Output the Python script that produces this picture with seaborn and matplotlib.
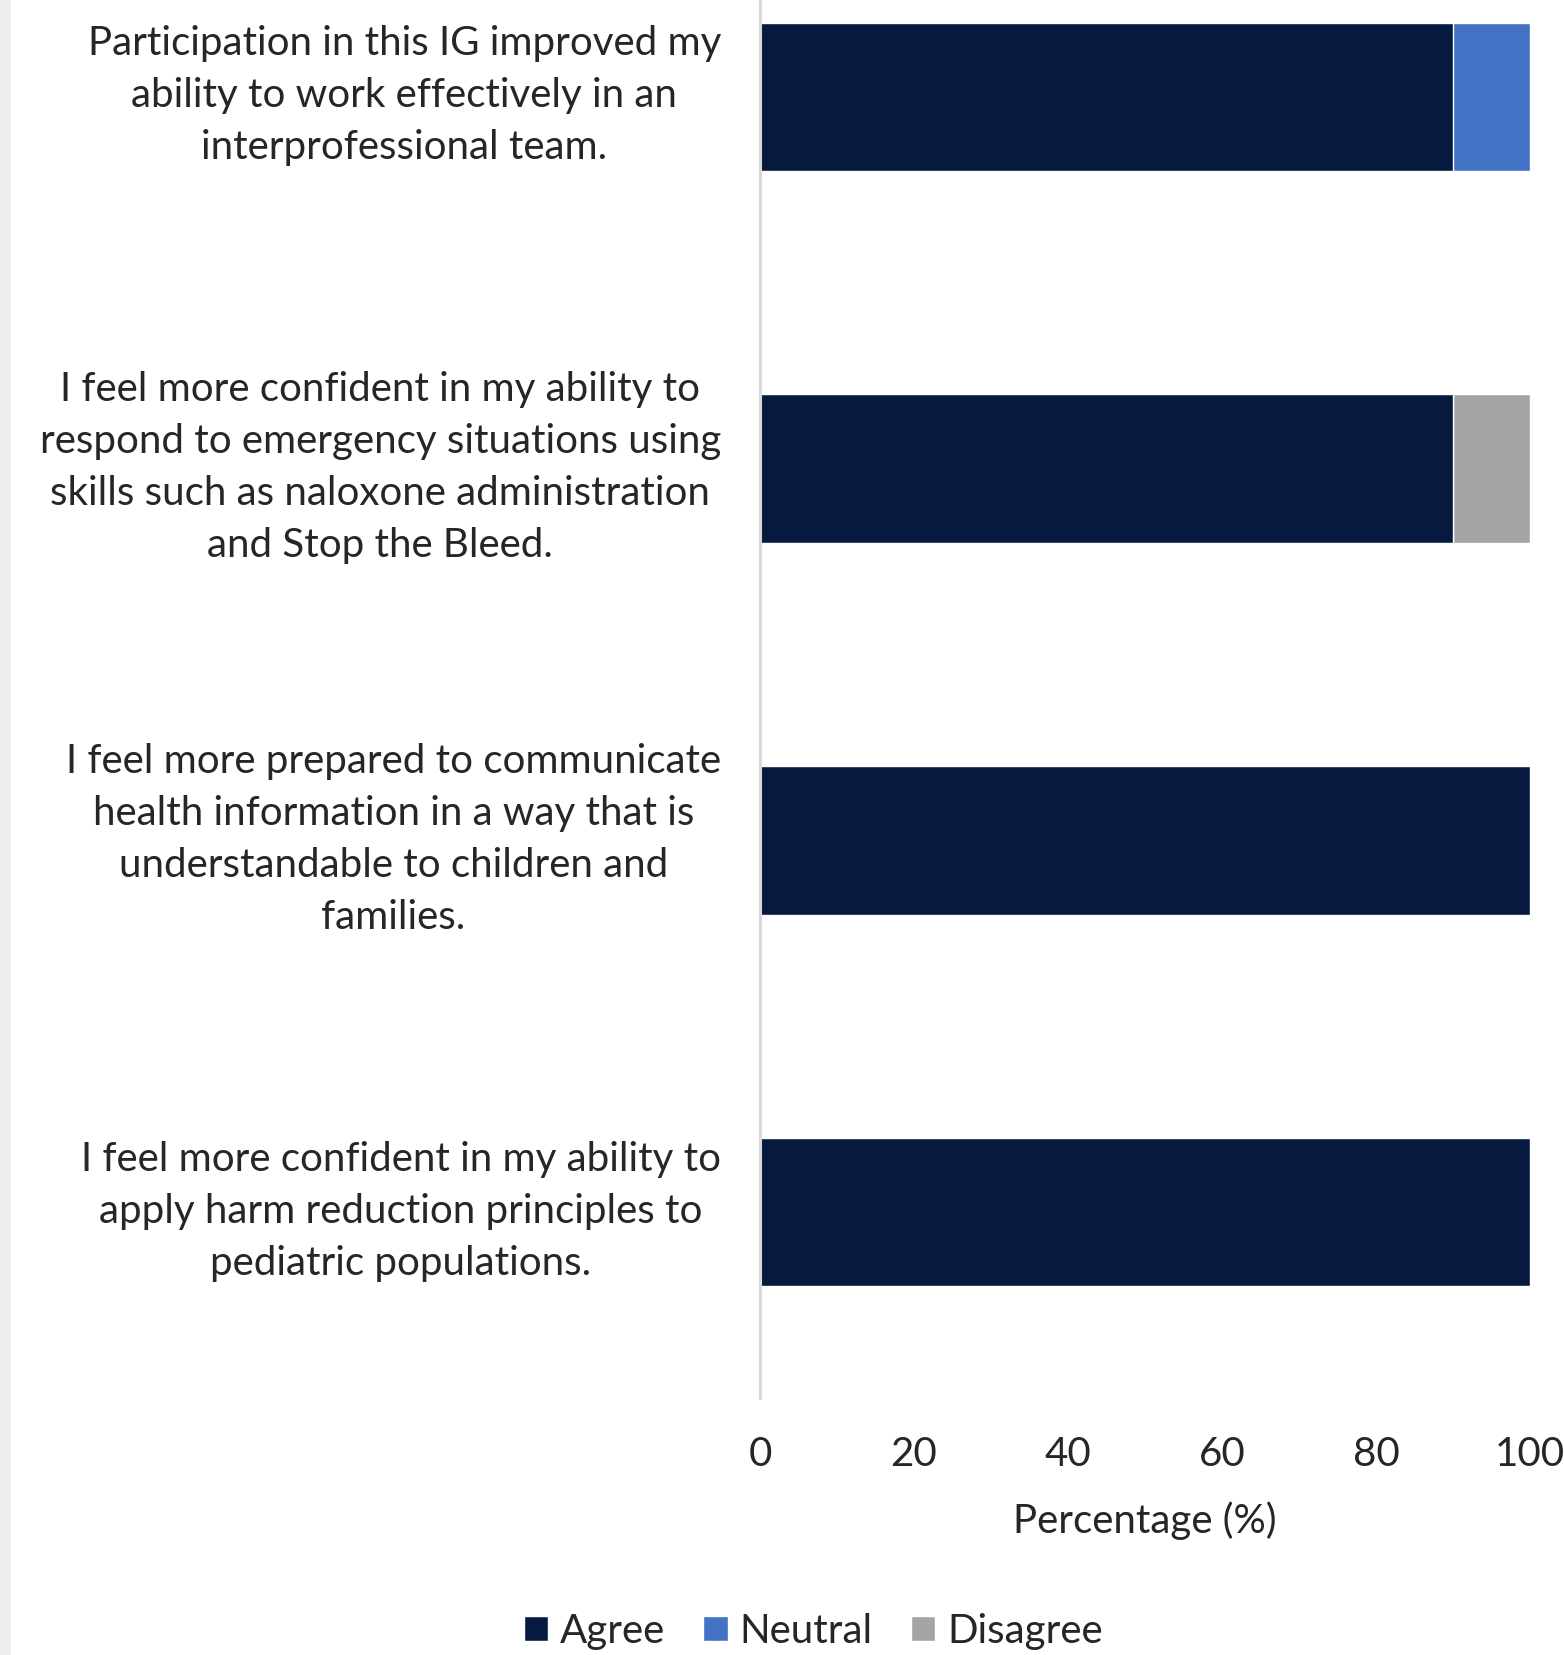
import numpy as np
import pandas as pd
import matplotlib
matplotlib.use("Agg")
import matplotlib.pyplot as plt
from matplotlib.patches import Rectangle, Patch
from matplotlib.transforms import ScaledTranslation
import seaborn as sns

statements = [
    "Participation in this IG improved my\nability to work effectively in an\ninterprofessional team.",
    "I feel more confident in my ability to\nrespond to emergency situations using\nskills such as naloxone administration\nand Stop the Bleed.",
    "I feel more prepared to communicate\nhealth information in a way that is\nunderstandable to children and\nfamilies.",
    "I feel more confident in my ability to\napply harm reduction principles to\npediatric populations.",
]
agree = [90, 90, 100, 100]
neutral = [10, 0, 0, 0]
disagree = [0, 10, 0, 0]
xticks = [0, 20, 40, 60, 80, 100]

colors = {"Agree": "#061A40", "Neutral": "#4472C4", "Disagree": "#A5A5A5"}

sns.set_theme(style="white")
plt.rcParams["font.family"] = ["Lato", "DejaVu Sans"]
FS = 29

df = pd.DataFrame({"statement": statements, "Agree": agree,
                   "Neutral": neutral, "Disagree": disagree})
df["c_neutral"] = df["Agree"] + df["Neutral"]
df["c_total"] = df["c_neutral"] + df["Disagree"]

fig = plt.figure(figsize=(15.64, 16.56), dpi=100)
ax = fig.add_axes([0.4859, 0.1552, 0.4924, 0.8979])

# stacked bars: draw cumulative totals back to front
sns.barplot(data=df, x="c_total", y="statement", color=colors["Disagree"],
            width=0.4, saturation=1, ax=ax)
sns.barplot(data=df, x="c_neutral", y="statement", color=colors["Neutral"],
            width=0.4, saturation=1, ax=ax)
sns.barplot(data=df, x="Agree", y="statement", color=colors["Agree"],
            width=0.4, saturation=1, ax=ax)

ax.set_xlim(0, 100)
ax.set_ylim(3.5, -0.5)
ax.set_xticks(xticks)
ax.set_xticklabels([str(t) for t in xticks], fontsize=FS)
ax.set_ylabel("")
ax.set_xlabel("Percentage (%)", fontsize=FS, labelpad=20)
ax.tick_params(axis="both", length=0)
ax.tick_params(axis="x", pad=27)
ax.tick_params(axis="y", pad=28)
shift = ScaledTranslation(0, 0.13, fig.dpi_scale_trans)
for lbl in ax.get_yticklabels():
    lbl.set_fontsize(FS)
    lbl.set_multialignment("center")
    lbl.set_linespacing(1.5)
    lbl.set_transform(lbl.get_transform() + shift)

for s in ["top", "right", "bottom"]:
    ax.spines[s].set_visible(False)
ax.spines["left"].set_color("#D9D9D9")
ax.spines["left"].set_linewidth(2.2)

handles = [Patch(facecolor=colors[k], label=k) for k in ["Agree", "Neutral", "Disagree"]]
fig.legend(handles=handles, loc="center", bbox_to_anchor=(0.52, 0.0145), ncol=3,
           frameon=False, fontsize=FS, handlelength=0.6, handleheight=0.6,
           handletextpad=0.3, columnspacing=0.95)

# grey strip at the left edge
fig.add_artist(Rectangle((0, 0), 11 / 1564, 1, transform=fig.transFigure,
                         facecolor="#EEEEEE", edgecolor="none"))

fig.savefig("out.png", dpi=100)
